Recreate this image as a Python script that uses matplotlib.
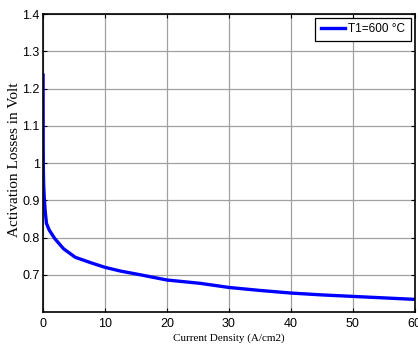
import matplotlib
matplotlib.use("Agg")
import matplotlib.pyplot as plt

# current density (A/cm2) and activation losses (V)
current_density = [0, 0.02, 0.05, 0.1, 0.2, 0.35, 0.55, 1.0, 1.9, 3.3, 5.2, 7.6,
                   10, 12.5, 15.7, 20, 25.4, 30, 35, 40, 45, 50, 55, 60]
activation_loss = [1.236, 1.05, 0.98, 0.94, 0.905, 0.87, 0.838, 0.82, 0.797, 0.77, 0.747, 0.733,
                   0.72, 0.71, 0.70, 0.686, 0.677, 0.666, 0.658, 0.651, 0.646, 0.642, 0.638, 0.634]
series_label = 'T1=600 \u00b0C'
x_ticks = [0, 10, 20, 30, 40, 50, 60]
y_ticks = [0.7, 0.8, 0.9, 1.0, 1.1, 1.2, 1.3, 1.4]
y_tick_labels = ['0.7', '0.8', '0.9', '1', '1.1', '1.2', '1.3', '1.4']

plt.rcParams['font.family'] = ['Liberation Sans', 'DejaVu Sans']

fig = plt.figure(figsize=(4.18, 3.51), dpi=100)
ax = fig.add_axes([0.103, 0.111, 0.889, 0.849])

ax.plot(current_density, activation_loss, color='#0000ff', linewidth=2.4, label=series_label)

ax.set_xlim(0, 60)
ax.set_ylim(0.6, 1.4)
ax.set_xticks(x_ticks)
ax.set_yticks(y_ticks)
ax.set_yticklabels(y_tick_labels)
ax.grid(True, color='#a0a0a0', linewidth=0.9)
ax.tick_params(direction='in', top=True, right=True, labelsize=9, length=3, width=0.8)
ax.tick_params(axis='y', pad=2.5)
ax.tick_params(axis='x', pad=4)
for s in ax.spines.values():
    s.set_linewidth(1.2)

ax.set_xlabel('Current Density (A/cm2)', family='Liberation Serif', fontsize=8, labelpad=3)
ax.set_ylabel('Activation Losses in Volt', family='Liberation Serif', fontsize=11)
ax.yaxis.set_label_coords(-0.06, 0.51)

leg = ax.legend(loc='upper right', fontsize=8.5, fancybox=False, framealpha=1,
                edgecolor='black', borderpad=0.5, handlelength=2.0, handletextpad=0.3,
                borderaxespad=0.3)
leg.get_frame().set_linewidth(0.9)

fig.savefig('out.png', dpi=100)
